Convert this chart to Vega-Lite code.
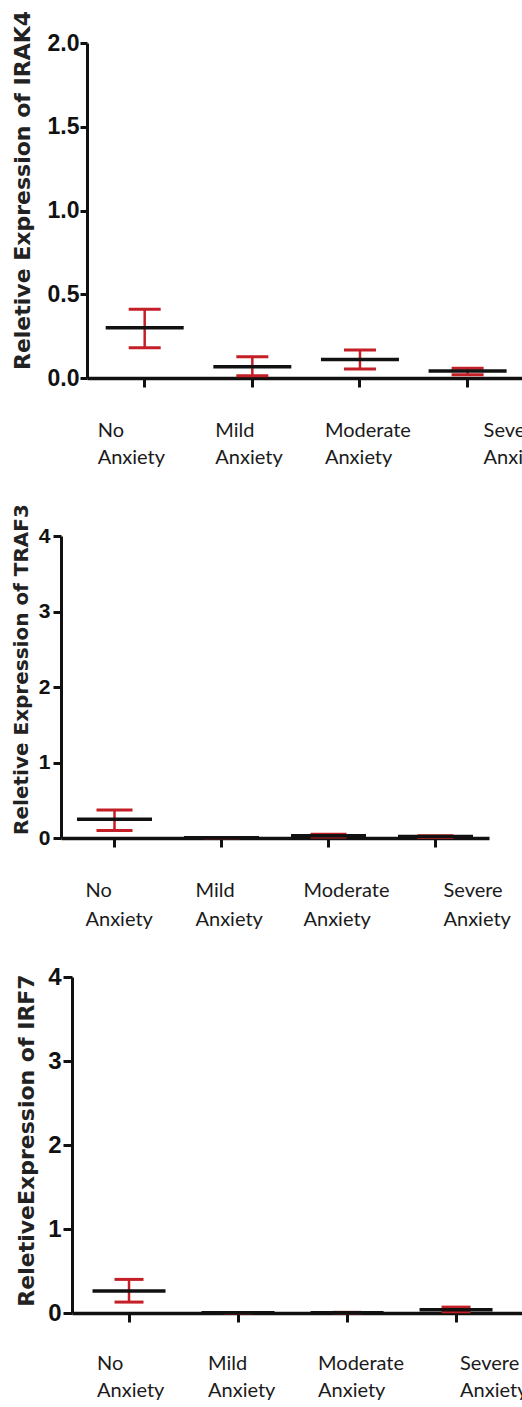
{
  "$schema": "https://vega.github.io/schema/vega-lite/v6.json",
  "padding": {"left": 0, "top": 10, "right": 0, "bottom": 0},
  "autosize": {"type": "pad"},
  "background": "white",
  "config": {"view": {"stroke": null}, "tick": {"opacity": 1}},
  "datasets": {
    "expr": [
      {"gene": "IRAK4", "group": "No Anxiety", "mean": 0.30, "lower": 0.18, "upper": 0.41},
      {"gene": "IRAK4", "group": "Mild Anxiety", "mean": 0.067, "lower": 0.014, "upper": 0.127},
      {"gene": "IRAK4", "group": "Moderate Anxiety", "mean": 0.111, "lower": 0.054, "upper": 0.167},
      {"gene": "IRAK4", "group": "Severe Anxiety", "mean": 0.042, "lower": 0.02, "upper": 0.058},
      {"gene": "TRAF3", "group": "No Anxiety", "mean": 0.247, "lower": 0.10, "upper": 0.37},
      {"gene": "TRAF3", "group": "Mild Anxiety", "mean": 0.003, "lower": 0.0, "upper": 0.006},
      {"gene": "TRAF3", "group": "Moderate Anxiety", "mean": 0.03, "lower": 0.012, "upper": 0.05},
      {"gene": "TRAF3", "group": "Severe Anxiety", "mean": 0.02, "lower": 0.008, "upper": 0.03},
      {"gene": "IRF7", "group": "No Anxiety", "mean": 0.262, "lower": 0.13, "upper": 0.40},
      {"gene": "IRF7", "group": "Mild Anxiety", "mean": 0.002, "lower": 0.0, "upper": 0.004},
      {"gene": "IRF7", "group": "Moderate Anxiety", "mean": 0.004, "lower": 0.0, "upper": 0.008},
      {"gene": "IRF7", "group": "Severe Anxiety", "mean": 0.04, "lower": 0.015, "upper": 0.07}
    ]
  },
  "spacing": 36,
  "vconcat": [
    {
      "spacing": 0,
      "hconcat": [
        {"width": 10, "height": 10, "data": {"values": []}, "mark": "point"},
        {
          "width": 437, "height": 335,
          "data": {"name": "expr"},
          "transform": [{"filter": "datum.gene === 'IRAK4'"}],
          "encoding": {
            "x": {
              "field": "group", "type": "nominal",
              "sort": ["No Anxiety", "Mild Anxiety", "Moderate Anxiety", "Severe Anxiety"],
              "scale": {"paddingInner": 0, "paddingOuter": 0.03, "align": 0.6},
              "axis": {
                "title": null, "labelAngle": 0, "domainColor": "#111", "domainWidth": 3.5,
                "tickColor": "#111", "tickWidth": 3, "tickSize": 9,
                "labelFont": "Lato", "labelFontSize": 20, "labelColor": "#1a1a1a",
                "labelAlign": "left", "labelBaseline": "top", "labelPadding": 33, "labelLineHeight": 27,
                "labelExpr": "split(datum.label, ' ')", "labelBound": false, "labelOverlap": false,
                "labelOffset": {"condition": [
                  {"test": "datum.value === 'No Anxiety'", "value": -47},
                  {"test": "datum.value === 'Mild Anxiety'", "value": -37},
                  {"test": "datum.value === 'Severe Anxiety'", "value": 16}
                ], "value": -35}
              }
            }
          },
          "layer": [
            {
              "mark": {"type": "rule", "color": "#c41e27", "strokeWidth": 2.5},
              "encoding": {
                "y": {
                  "field": "lower", "type": "quantitative",
                  "scale": {"domain": [0, 2], "nice": false},
                  "axis": {
                    "title": "Reletive Expression of IRAK4", "values": [0, 0.5, 1, 1.5, 2], "format": ".1f",
                    "grid": false, "domainColor": "#111", "domainWidth": 3,
                    "tickColor": "#111", "tickWidth": 3, "tickSize": 7,
                    "labelFont": "Liberation Sans", "labelFontWeight": "bold", "labelFontSize": 23,
                    "labelColor": "#111", "labelPadding": 1,
                    "titleFont": "DejaVu Sans", "titleFontWeight": "bold", "titleFontSize": 22,
                    "titleColor": "#222", "titleX": -58, "titleY": 147, "titleBaseline": "alphabetic",
                    "titleAngle": -90, "titleAlign": "center"
                  }
                },
                "y2": {"field": "upper"}
              }
            },
            {
              "mark": {"type": "tick", "color": "#c41e27", "size": 32, "thickness": 3},
              "encoding": {"y": {"field": "upper", "type": "quantitative", "title": "Reletive Expression of IRAK4"}}
            },
            {
              "mark": {"type": "tick", "color": "#c41e27", "size": 32, "thickness": 3},
              "encoding": {"y": {"field": "lower", "type": "quantitative", "title": "Reletive Expression of IRAK4"}}
            },
            {
              "mark": {"type": "tick", "color": "#111", "size": 78, "thickness": 3.5},
              "encoding": {"y": {"field": "mean", "type": "quantitative", "title": "Reletive Expression of IRAK4"}}
            }
          ]
        }
      ]
    },
    {
      "spacing": 0,
      "hconcat": [
        {"width": 10, "height": 10, "data": {"values": []}, "mark": "point"},
        {
          "width": 428, "height": 302,
          "data": {"name": "expr"},
          "transform": [{"filter": "datum.gene === 'TRAF3'"}],
          "encoding": {
            "x": {
              "field": "group", "type": "nominal",
              "sort": ["No Anxiety", "Mild Anxiety", "Moderate Anxiety", "Severe Anxiety"],
              "scale": {"paddingInner": 0, "paddingOuter": 0},
              "axis": {
                "title": null, "labelAngle": 0, "domainColor": "#111", "domainWidth": 3.5,
                "tickColor": "#111", "tickWidth": 3, "tickSize": 9,
                "labelFont": "Lato", "labelFontSize": 20, "labelColor": "#1a1a1a",
                "labelAlign": "left", "labelBaseline": "top", "labelPadding": 33, "labelLineHeight": 29,
                "labelExpr": "split(datum.label, ' ')", "labelBound": false, "labelOverlap": false,
                "labelOffset": {"condition": [
                  {"test": "datum.value === 'No Anxiety'", "value": -29},
                  {"test": "datum.value === 'Mild Anxiety'", "value": -26},
                  {"test": "datum.value === 'Severe Anxiety'", "value": 8}
                ], "value": -25}
              }
            }
          },
          "layer": [
            {
              "mark": {"type": "rule", "color": "#c41e27", "strokeWidth": 2.5},
              "encoding": {
                "y": {
                  "field": "lower", "type": "quantitative",
                  "scale": {"domain": [0, 4], "nice": false},
                  "axis": {
                    "title": "Reletive Expression of TRAF3", "values": [0, 1, 2, 3, 4], "format": "d",
                    "grid": false, "domainColor": "#111", "domainWidth": 3,
                    "tickColor": "#111", "tickWidth": 3, "tickSize": 8,
                    "labelFont": "Liberation Sans", "labelFontWeight": "bold", "labelFontSize": 21,
                    "labelColor": "#111", "labelPadding": 3,
                    "titleFont": "DejaVu Sans", "titleFontWeight": "bold", "titleFontSize": 20,
                    "titleColor": "#222", "titleX": -34, "titleY": 133, "titleBaseline": "alphabetic",
                    "titleAngle": -90, "titleAlign": "center"
                  }
                },
                "y2": {"field": "upper"}
              }
            },
            {
              "mark": {"type": "tick", "color": "#c41e27", "size": 36, "thickness": 3},
              "encoding": {"y": {"field": "upper", "type": "quantitative", "title": "Reletive Expression of TRAF3"}}
            },
            {
              "mark": {"type": "tick", "color": "#c41e27", "size": 36, "thickness": 3},
              "encoding": {"y": {"field": "lower", "type": "quantitative", "title": "Reletive Expression of TRAF3"}}
            },
            {
              "mark": {"type": "tick", "color": "#111", "size": 75, "thickness": 3.5},
              "encoding": {"y": {"field": "mean", "type": "quantitative", "title": "Reletive Expression of TRAF3"}}
            }
          ]
        }
      ]
    },
    {
      "spacing": 0,
      "hconcat": [
        {"width": 15, "height": 10, "data": {"values": []}, "mark": "point"},
        {
          "width": 450, "height": 336,
          "data": {"name": "expr"},
          "transform": [{"filter": "datum.gene === 'IRF7'"}],
          "encoding": {
            "x": {
              "field": "group", "type": "nominal",
              "sort": ["No Anxiety", "Mild Anxiety", "Moderate Anxiety", "Severe Anxiety"],
              "scale": {"paddingInner": 0, "paddingOuter": 0.064, "align": 0.18},
              "axis": {
                "title": null, "labelAngle": 0, "domainColor": "#111", "domainWidth": 3.5,
                "tickColor": "#111", "tickWidth": 3, "tickSize": 9,
                "labelFont": "Lato", "labelFontSize": 20, "labelColor": "#1a1a1a",
                "labelAlign": "left", "labelBaseline": "top", "labelPadding": 31, "labelLineHeight": 27,
                "labelExpr": "split(datum.label, ' ')", "labelBound": false, "labelOverlap": false,
                "labelOffset": {"condition": [
                  {"test": "datum.value === 'No Anxiety'", "value": -32},
                  {"test": "datum.value === 'Mild Anxiety'", "value": -30},
                  {"test": "datum.value === 'Severe Anxiety'", "value": 4}
                ], "value": -29}
              }
            }
          },
          "layer": [
            {
              "mark": {"type": "rule", "color": "#c41e27", "strokeWidth": 2.5},
              "encoding": {
                "y": {
                  "field": "lower", "type": "quantitative",
                  "scale": {"domain": [0, 4], "nice": false},
                  "axis": {
                    "title": "ReletiveExpression of IRF7", "values": [0, 1, 2, 3, 4], "format": "d",
                    "grid": false, "domainColor": "#111", "domainWidth": 3,
                    "tickColor": "#111", "tickWidth": 3, "tickSize": 9,
                    "labelFont": "Liberation Sans", "labelFontWeight": "bold", "labelFontSize": 24,
                    "labelColor": "#111", "labelPadding": 2,
                    "titleFont": "DejaVu Sans", "titleFontWeight": "bold", "titleFontSize": 22,
                    "titleColor": "#222", "titleX": -39, "titleY": 163, "titleBaseline": "alphabetic",
                    "titleAngle": -90, "titleAlign": "center"
                  }
                },
                "y2": {"field": "upper"}
              }
            },
            {
              "mark": {"type": "tick", "color": "#c41e27", "size": 29, "thickness": 3},
              "encoding": {"y": {"field": "upper", "type": "quantitative", "title": "ReletiveExpression of IRF7"}}
            },
            {
              "mark": {"type": "tick", "color": "#c41e27", "size": 29, "thickness": 3},
              "encoding": {"y": {"field": "lower", "type": "quantitative", "title": "ReletiveExpression of IRF7"}}
            },
            {
              "mark": {"type": "tick", "color": "#111", "size": 73, "thickness": 3.5},
              "encoding": {"y": {"field": "mean", "type": "quantitative", "title": "ReletiveExpression of IRF7"}}
            }
          ]
        }
      ]
    }
  ]
}
